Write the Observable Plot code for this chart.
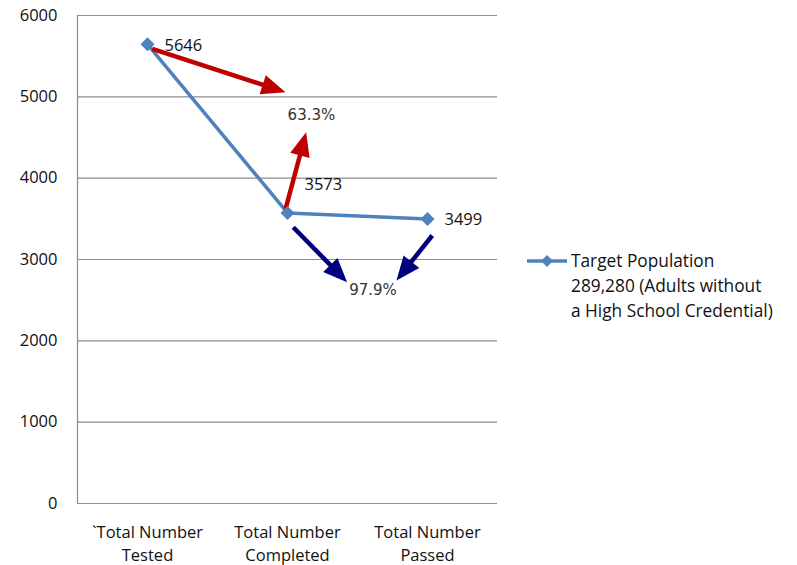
<!DOCTYPE html>
<html>
<head>
<meta charset="utf-8">
<script src="https://cdn.jsdelivr.net/npm/d3@7"></script>
<script src="https://cdn.jsdelivr.net/npm/@observablehq/plot@0.6"></script>
<style>
  body { margin: 0; background: #fff; font-family: "Open Sans", Lato, sans-serif; }
  #wrap { position: relative; width: 797px; height: 565px; }
  #legend { position: absolute; left: 526px; top: 248px; font-size: 17.3px; line-height: 25px; color: #111; }
  #legend .row { display: flex; align-items: flex-start; }
  #legend svg { margin-top: 4px; margin-right: 3px; }
</style>
</head>
<body>
<div id="wrap">
  <div id="chart"></div>
  <div id="legend"></div>
</div>
<script>
// ---- data ----
const categories = ["`Total Number\nTested", "Total Number\nCompleted", "Total Number\nPassed"];
const values = [5646, 3573, 3499];
const seriesName = "Target Population\n289,280 (Adults without\na High School Credential)";
const yTicks = [0, 1000, 2000, 3000, 4000, 5000, 6000];
// annotation arrows, in data units (x = category index)
const arrowKind = ["red", "red", "navy", "navy"];
const arrowX1 = [0.034, 0.986, 1.041, 2.034];
const arrowY1 = [5590, 3620, 3397, 3295];
const arrowX2 = [0.945, 1.122, 1.396, 1.805];
const arrowY2 = [5080, 4494, 2774, 2800];
const pctLabels = ["63.3%", "97.9%"];
const pctX = [1.171, 1.611];
const pctY = [4779, 2619];

// ---- build tables ----
const points = categories.map((c, i) => ({i, c, v: values[i]}));
const arrows = arrowKind.map((k, j) => ({k, x1: arrowX1[j], y1: arrowY1[j], x2: arrowX2[j], y2: arrowY2[j]}));
const pcts = pctLabels.map((t, j) => ({t, x: pctX[j], y: pctY[j]}));

const colors = {red: "#C00000", navy: "#00007F"};
const lineColor = "#4F81BD";

function head(color) {
  return d3.create("svg:marker")
    .attr("viewBox", "-20 -12 28 24")
    .attr("markerWidth", 28)
    .attr("markerHeight", 24)
    .attr("markerUnits", "userSpaceOnUse")
    .attr("orient", "auto")
    .attr("overflow", "visible")
    .attr("fill", color)
    .attr("stroke", "none")
    .call(m => m.append("path").attr("d", "M-18,-10L6,0L-18,10Z"))
    .node();
}

const font = "'Open Sans', Lato, sans-serif";

const chart = Plot.plot({
  width: 797,
  height: 565,
  marginLeft: 77,
  marginRight: 300,
  marginTop: 15,
  marginBottom: 62,
  style: {fontFamily: font, fontSize: "16.5px", color: "#111", background: "white"},
  x: {domain: [-0.5, 2.5], axis: null},
  y: {domain: [0, 6000], axis: null},
  marks: [
    Plot.ruleY(yTicks, {stroke: "#8c8c8c", strokeWidth: 1.2, strokeOpacity: 1}),
    Plot.ruleX([-0.5], {stroke: "#8c8c8c", strokeWidth: 1.2}),
    Plot.axisY({ticks: yTicks, tickSize: 0, tickPadding: 20, tickFormat: d => String(d), fontSize: 16.5, fill: "#111"}),
    Plot.text(points, {x: "i", text: "c", frameAnchor: "bottom", dy: 17, lineAnchor: "top", lineHeight: 1.45, fontSize: 16.5, fill: "#111"}),
    Plot.line(points, {x: "i", y: "v", stroke: lineColor, strokeWidth: 3.5}),
    Plot.link(arrows.filter(a => a.k === "red"), {x1: "x1", y1: "y1", x2: "x2", y2: "y2", stroke: colors.red, strokeWidth: 4.5, markerEnd: head}),
    Plot.link(arrows.filter(a => a.k === "navy"), {x1: "x1", y1: "y1", x2: "x2", y2: "y2", stroke: colors.navy, strokeWidth: 4.5, markerEnd: head}),
    Plot.dot(points, {x: "i", y: "v", symbol: "square", rotate: 45, r: 5.6, fill: lineColor}),
    Plot.text(points.filter(d => d.i !== 1), {x: "i", y: "v", text: d => String(d.v), textAnchor: "start", dx: 17, dy: 1, fontSize: 16.5, fill: "#111"}),
    Plot.text(points.filter(d => d.i === 1), {x: "i", y: "v", text: d => String(d.v), textAnchor: "start", dx: 17, dy: -28, fontSize: 16.5, fill: "#111"}),
    Plot.text(pcts, {x: "x", y: "y", text: "t", fontFamily: "'DejaVu Sans', sans-serif", fontSize: 15, fill: "#333"})
  ]
});
document.getElementById("chart").appendChild(chart);

// legend
const lg = document.getElementById("legend");
const row = document.createElement("div");
row.className = "row";
row.innerHTML = `<svg width="42" height="18" viewBox="0 0 42 18"><line x1="1" y1="9" x2="41" y2="9" stroke="${lineColor}" stroke-width="3.5"/><path d="M21,3L27,9L21,15L15,9Z" fill="${lineColor}"/></svg>`;
const txt = document.createElement("div");
txt.innerHTML = seriesName.split("\n").join("<br>");
row.appendChild(txt);
lg.appendChild(row);
</script>
</body>
</html>
